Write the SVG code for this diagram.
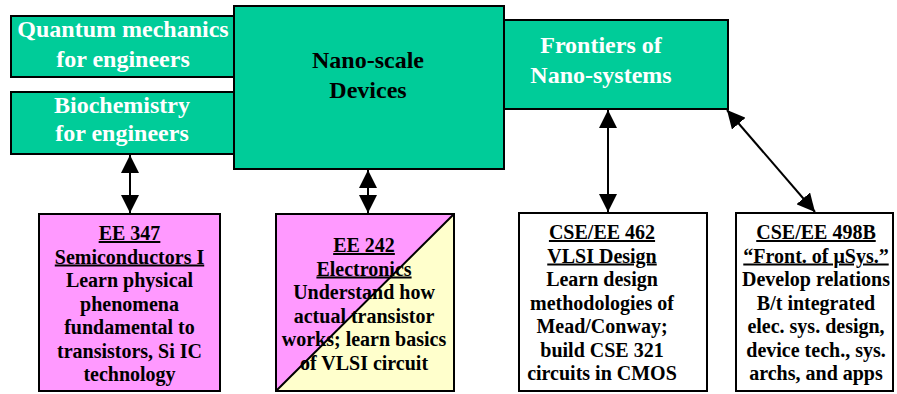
<svg xmlns="http://www.w3.org/2000/svg" width="897" height="394" viewBox="0 0 897 394">
<style>
.teal{fill:#00CC99;stroke:#000;stroke-width:2}
.box{stroke:#000;stroke-width:2}
.wt{font-family:"Liberation Serif","Times New Roman",serif;font-weight:bold;font-size:24px;fill:#fff;text-anchor:middle}
.bt{font-family:"Liberation Serif","Times New Roman",serif;font-weight:bold;font-size:24px;fill:#000;text-anchor:middle}
.st{font-family:"Liberation Serif","Times New Roman",serif;font-weight:bold;font-size:20px;fill:#000;text-anchor:middle}
.u{text-decoration:underline}
.con{stroke:#000;stroke-width:2;fill:none;marker-start:url(#ah);marker-end:url(#ah)}
</style>
<defs>
<marker id="ah" viewBox="0 0 18 18" refX="18" refY="9" markerWidth="18" markerHeight="18" markerUnits="userSpaceOnUse" orient="auto-start-reverse">
<path d="M0,0 L18,9 L0,18 z" fill="#000"/>
</marker>
</defs>
<rect width="897" height="394" fill="#fff"/>
<g id="quantum">
<rect class="teal" x="11" y="16" width="224" height="61"/>
<text class="wt" x="123" y="37">Quantum mechanics</text>
<text class="wt" x="123" y="67">for engineers</text>
</g>
<g id="biochem">
<rect class="teal" x="11" y="92" width="224" height="62"/>
<text class="wt" x="122" y="113">Biochemistry</text>
<text class="wt" x="122" y="141">for engineers</text>
</g>
<g id="frontiers">
<rect class="teal" x="503" y="20" width="225" height="89"/>
<text class="wt" x="601" y="53">Frontiers of</text>
<text class="wt" x="601" y="83">Nano-systems</text>
</g>
<g id="nano">
<rect class="teal" x="234" y="6" width="270" height="163"/>
<text class="bt" x="368" y="68">Nano-scale</text>
<text class="bt" x="368" y="98">Devices</text>
</g>
<g id="ee347">
<rect class="box" x="39" y="214" width="181" height="177" fill="#FF99FF"/>
<text class="st u" x="129.5" y="240">EE 347</text>
<text class="st u" x="129.5" y="263.5">Semiconductors I</text>
<text class="st" x="129.5" y="287">Learn physical</text>
<text class="st" x="129.5" y="310.5">phenomena</text>
<text class="st" x="129.5" y="334">fundamental to</text>
<text class="st" x="129.5" y="357.5">transistors, Si IC</text>
<text class="st" x="129.5" y="381">technology</text>
</g>
<g id="ee242">
<polygon points="276,391 276,214 454,214" fill="#FF99FF"/>
<polygon points="276,391 454,214 454,391" fill="#FFFFCC"/>
<line x1="276" y1="391" x2="454" y2="214" stroke="#000" stroke-width="2"/>
<rect class="box" x="276" y="214" width="178" height="177" fill="none"/>
<text class="st u" x="364" y="252">EE 242</text>
<text class="st u" x="364" y="275.5">Electronics</text>
<text class="st" x="364" y="299">Understand how</text>
<text class="st" x="364" y="322.5">actual transistor</text>
<text class="st" x="364" y="346">works; learn basics</text>
<text class="st" x="364" y="369.5">of VLSI circuit</text>
</g>
<g id="cse462">
<rect class="box" x="519" y="213" width="188" height="178" fill="#fff"/>
<text class="st u" x="602" y="239">CSE/EE 462</text>
<text class="st u" x="602" y="262.5">VLSI Design</text>
<text class="st" x="602" y="286">Learn design</text>
<text class="st" x="602" y="309.5">methodologies of</text>
<text class="st" x="602" y="333">Mead/Conway;</text>
<text class="st" x="602" y="356.5">build CSE 321</text>
<text class="st" x="602" y="380">circuits in CMOS</text>
</g>
<g id="cse498b">
<rect class="box" x="736" y="213" width="157" height="178" fill="#fff"/>
<text class="st u" x="816" y="239">CSE/EE 498B</text>
<text class="st u" x="816" y="262.5">“Front. of μSys.”</text>
<text class="st" x="816" y="286">Develop relations</text>
<text class="st" x="816" y="309.5">B/t integrated</text>
<text class="st" x="816" y="333">elec. sys. design,</text>
<text class="st" x="816" y="356.5">device tech., sys.</text>
<text class="st" x="816" y="380">archs, and apps</text>
</g>
<g id="connectors">
<line class="con" x1="130" y1="155" x2="130" y2="213"/>
<line class="con" x1="368" y1="170" x2="368" y2="213"/>
<line class="con" x1="608" y1="110" x2="608" y2="212"/>
<line class="con" x1="727" y1="110" x2="815" y2="212"/>
</g>
</svg>
